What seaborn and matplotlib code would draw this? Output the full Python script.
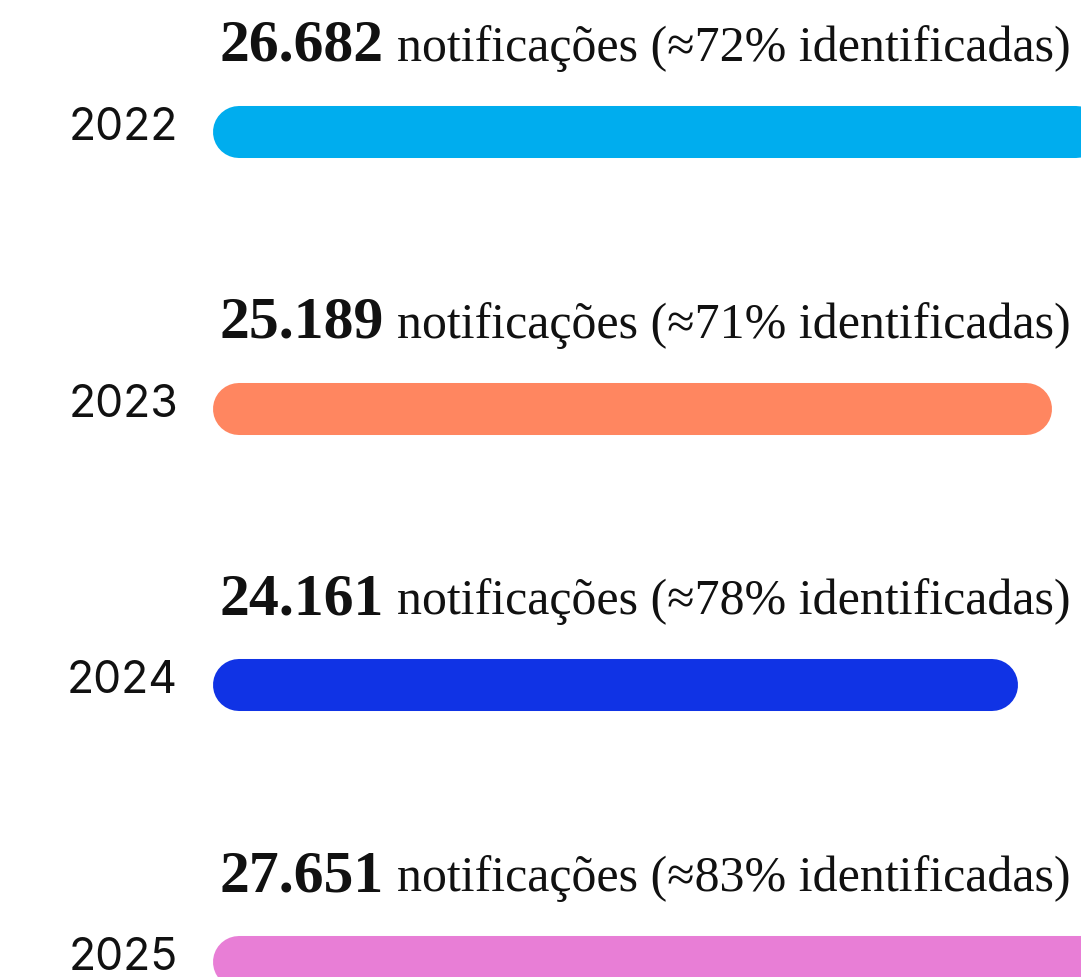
import matplotlib
matplotlib.use('Agg')
import pandas as pd
import numpy as np
import matplotlib.pyplot as plt
import seaborn as sns

# data
years = ['2022', '2023', '2024', '2025']
notificacoes = [26682, 25189, 24161, 27651]
pct_identificadas = [72, 71, 78, 83]
bar_colors = ['#00ADEE', '#FF8660', '#1033E5', '#E87ED6']

df = pd.DataFrame({'ano': years, 'notificacoes': notificacoes})

sns.set_theme(style='white')
plt.rcParams['font.family'] = ['Liberation Serif', 'DejaVu Serif']

fig = plt.figure(figsize=(10.81, 9.77), dpi=100)
W, H = 1081, 977
left_px = 213
ax = fig.add_axes([left_px / W, 0, 1 - left_px / W, 1])

bar_h = 0.188
sns.barplot(data=df, x='notificacoes', y='ano', hue='ano', palette=bar_colors,
            orient='h', width=bar_h, legend=False, ax=ax, saturation=1)

# scale: ~0.0333 px per notification, ~276.7 px between rows
px_x = 0.0333
px_y = 276.7
ax.set_xlim(0, (W - left_px) / px_x)
ax.set_ylim(3 + (H - 962) / px_y, -132 / px_y)
sns.despine(ax=ax, left=True, bottom=True)
ax.set_xticks([])
ax.set_yticks([])
ax.set_xlabel('')
ax.set_ylabel('')

pt = 0.72  # px -> points at dpi 100

# turn the seaborn bars into pills (round caps)
r_x = (bar_h / 2 * px_y) / px_x
for p in list(ax.patches):
    x0, y0, w, h = p.get_x(), p.get_y(), p.get_width(), p.get_height()
    fc = p.get_facecolor()
    p.remove()
    ax.plot([x0 + r_x, x0 + w - r_x], [y0 + h / 2, y0 + h / 2], color=fc,
            lw=h * px_y * pt, solid_capstyle='round')

for i, (yr, n, pc) in enumerate(zip(years, notificacoes, pct_identificadas)):
    # year label
    ax.annotate(yr, xy=(0, i), xycoords='data', xytext=(-35 * pt, -8 * pt),
                textcoords='offset points', ha='right', va='baseline',
                fontsize=32, family=['Inter', 'DejaVu Sans'], color='#111111',
                annotation_clip=False)
    # bold number + rest of the sentence
    num = f'{n:,}'.replace(',', '.')
    t = ax.annotate(num, xy=(0, i), xycoords='data', xytext=(7 * pt, 71 * pt),
                    textcoords='offset points', ha='left', va='baseline',
                    fontsize=43, fontweight='bold', color='#111111',
                    annotation_clip=False)
    ax.annotate(f'notificações (≈{pc}% identificadas)', xy=(1, i),
                xycoords=(t, 'data'), xytext=(13 * pt, 71 * pt),
                textcoords='offset points', ha='left', va='baseline',
                fontsize=36, color='#111111', annotation_clip=False)

fig.savefig('out.png', dpi=100, facecolor='white')
